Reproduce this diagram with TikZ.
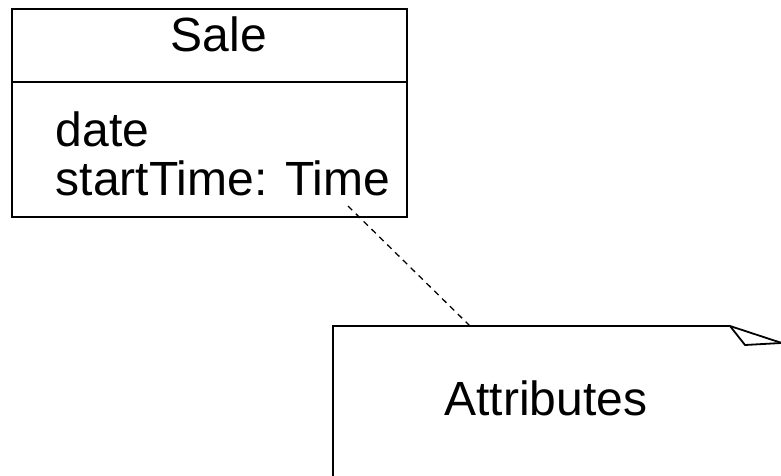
\documentclass[tikz,border=0pt]{standalone}
\usepackage{fontspec}
\setmainfont{Liberation Sans}
\begin{document}
\begin{tikzpicture}[x=1pt,y=-1pt,
  line width=1.8pt,
  umltext/.style={font=\fontsize{48}{52}\selectfont, inner sep=0pt},
  assoc/.style={line width=1.3pt, dash pattern=on 6pt off 5pt}]
\useasboundingbox (0,0) rectangle (781,476);
\clip (0,0) rectangle (781,476);
% class box: name compartment and attribute compartment
\node[draw, minimum width=395pt, minimum height=73pt, anchor=north west, inner sep=0pt] (hdr) at (11,8) {};
\node[draw, minimum width=395pt, minimum height=135pt, anchor=north west, inner sep=0pt] (body) at (11,81) {};
\node[umltext, anchor=base] (name) at (219,52) {Sale};
\node[umltext, anchor=base west] (a1) at (55,146.5) {date};
\node[umltext, anchor=base west] (a2) at (55,195.5) {startTime: Time};
% note with folded corner
\draw (333,480) -- (333,326) -- (730,326) -- (800,349);
\draw (730,326) -- (745,345) -- (781,343);
\coordinate (notetop) at (470,326);
\node[umltext, anchor=base] (note) at (546,415) {Attributes};
% anchor line
\coordinate (lnstart) at (348,206);
\draw[assoc] (lnstart) -- (notetop);
\end{tikzpicture}
\end{document}
